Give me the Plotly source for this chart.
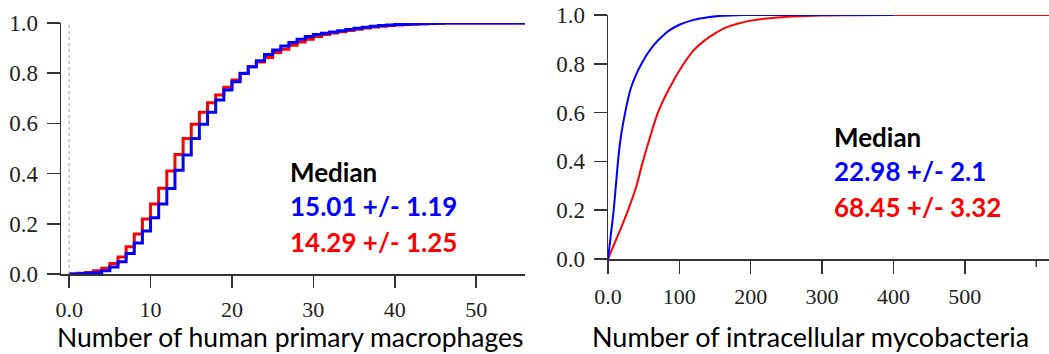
import plotly.graph_objects as go

# ---------------- data ----------------
# Left panel: cumulative fraction vs number of human primary macrophages (step CDF)
macro_x = list(range(0, 57))
macro_red = [0.000, 0.003, 0.006, 0.013, 0.023, 0.042, 0.068, 0.109, 0.159, 0.219,
             0.279, 0.342, 0.410, 0.476, 0.540, 0.597, 0.644, 0.682, 0.713, 0.744,
             0.773, 0.800, 0.826, 0.845, 0.863, 0.882, 0.895, 0.911, 0.924, 0.935,
             0.946, 0.954, 0.960, 0.965, 0.970, 0.975, 0.980, 0.984, 0.987, 0.990,
             0.992, 0.994, 0.996, 0.997, 0.998, 0.999, 1.0, 1.0, 1.0, 1.0,
             1.0, 1.0, 1.0, 1.0, 1.0, 1.0, 1.0]
macro_blue = [0.000, 0.001, 0.003, 0.006, 0.013, 0.028, 0.049, 0.082, 0.124, 0.171,
              0.224, 0.279, 0.341, 0.413, 0.474, 0.540, 0.597, 0.644, 0.693, 0.733,
              0.766, 0.799, 0.826, 0.850, 0.875, 0.892, 0.908, 0.922, 0.935, 0.946,
              0.954, 0.959, 0.964, 0.969, 0.974, 0.979, 0.983, 0.987, 0.990, 0.992,
              0.994, 0.995, 0.996, 0.997, 0.998, 0.999, 1.0, 1.0, 1.0, 1.0,
              1.0, 1.0, 1.0, 1.0, 1.0, 1.0, 1.0]

# Right panel: cumulative fraction vs number of intracellular mycobacteria
myco_blue_x = [0, 4, 8, 11, 14, 18, 24, 32, 40, 47, 55, 65, 75, 85, 100, 120, 140, 160, 180, 200, 400]
myco_blue_y = [0, 0.10, 0.20, 0.30, 0.40, 0.50, 0.60, 0.70, 0.76, 0.80, 0.84, 0.88, 0.91, 0.935,
               0.96, 0.98, 0.991, 0.997, 0.999, 1.0, 1.0]
myco_red_x = [0, 10, 20, 30, 40, 48, 59, 70, 86, 106, 120, 135, 150, 165, 180, 200, 230, 260,
              300, 350, 400, 630]
myco_red_y = [0, 0.07, 0.14, 0.215, 0.30, 0.39, 0.50, 0.60, 0.70, 0.80, 0.855, 0.895, 0.925, 0.948,
              0.963, 0.977, 0.988, 0.994, 0.998, 0.999, 1.0, 1.0]

y_ticks = [0.0, 0.2, 0.4, 0.6, 0.8, 1.0]
left_xticks = [0, 10, 20, 30, 40, 50]
left_xticktext = ["0.0", "10", "20", "30", "40", "50"]
right_xticks = [0, 100, 200, 300, 400, 500]
right_xticktext = ["0.0", "100", "200", "300", "400", "500"]

left_title = "Number of human primary macrophages"
right_title = "Number of intracellular mycobacteria"
left_median = ["Median", "15.01 +/- 1.19", "14.29 +/- 1.25"]
right_median = ["Median", "22.98 +/- 2.1", "68.45 +/- 3.32"]

BLUE = "#0000FF"
RED = "#FF0000"
W, H = 1049, 354


def px(x):
    return x / W


def py(y):
    return 1 - y / H


fig = go.Figure()
fig.add_trace(go.Scatter(x=macro_x, y=macro_red, mode="lines", line=dict(color=RED, width=3, shape="hv"),
                         xaxis="x", yaxis="y", showlegend=False, hoverinfo="skip"))
fig.add_trace(go.Scatter(x=macro_x, y=macro_blue, mode="lines", line=dict(color=BLUE, width=3, shape="hv"),
                         xaxis="x", yaxis="y", showlegend=False, hoverinfo="skip"))
fig.add_trace(go.Scatter(x=myco_red_x, y=myco_red_y, mode="lines", line=dict(color=RED, width=2, shape="spline", smoothing=0.8),
                         xaxis="x2", yaxis="y2", showlegend=False, hoverinfo="skip"))
fig.add_trace(go.Scatter(x=myco_blue_x, y=myco_blue_y, mode="lines", line=dict(color=BLUE, width=2, shape="spline", smoothing=0.6),
                         xaxis="x2", yaxis="y2", showlegend=False, hoverinfo="skip"))

ytickfont = dict(family="Liberation Serif", size=23, color="#222222")
xtickfont = dict(family="Liberation Serif", size=22, color="#222222")
axis_common = dict(showgrid=False, zeroline=False, showline=True, linecolor="#333333", linewidth=1.5,
                   ticks="outside", tickcolor="#333333", tickwidth=1.5, fixedrange=True,
                   automargin=False, ticklabeloverflow="allow")

fig.update_layout(
    width=W, height=H,
    margin=dict(l=0, r=0, t=0, b=0, autoexpand=False),
    paper_bgcolor="white", plot_bgcolor="white",
    xaxis=dict(domain=[px(61), px(525)], range=[-1, 56], tickvals=left_xticks, ticktext=left_xticktext,
               ticklen=12, anchor="y", ticklabelstandoff=3, tickfont=xtickfont, **axis_common),
    yaxis=dict(domain=[py(274), py(23)], range=[0, 1], tickvals=y_ticks, tickformat=".1f",
               ticklen=13, anchor="x", ticklabelstandoff=4, tickfont=ytickfont, **axis_common),
    xaxis2=dict(domain=[px(608), px(1049)], range=[0, 618], tickvals=right_xticks, ticktext=right_xticktext,
                ticklen=13, anchor="y2", ticklabelstandoff=4, tickfont=xtickfont, **axis_common),
    yaxis2=dict(domain=[py(259), py(15)], range=[0, 1], tickvals=y_ticks, tickformat=".1f",
                ticklen=13, anchor="x2", ticklabelstandoff=4, tickfont=ytickfont, **axis_common),
)

# dotted reference line at x = 0 in left panel
fig.add_shape(type="line", xref="x", yref="y", x0=0, x1=0, y0=0, y1=1,
              line=dict(color="#999999", width=1, dash="dot"))
# short end tick at 600 on the right x axis
fig.add_shape(type="line", xref="x2", yref="paper", x0=600, x1=600, y0=py(259), y1=py(267),
              line=dict(color="#333333", width=1.5))

fig.add_annotation(text=left_title, xref="paper", yref="paper", x=px(290), y=py(337),
                   xanchor="center", yanchor="middle", showarrow=False,
                   font=dict(family="Lato", size=26.5, color="#000000"))
fig.add_annotation(text=right_title, xref="paper", yref="paper", x=px(810), y=py(336),
                   xanchor="center", yanchor="middle", showarrow=False,
                   font=dict(family="Lato", size=27, color="#000000"))

med_colors = ["#000000", BLUE, RED]
left_y = [172, 206, 242]
right_y = [137, 171, 207]
for txt, c, yy in zip(left_median, med_colors, left_y):
    fig.add_annotation(text="<b>%s</b>" % txt, xref="paper", yref="paper", x=px(288), y=py(yy),
                       xanchor="left", yanchor="middle", showarrow=False,
                       font=dict(family="Lato", size=26, color=c))
for txt, c, yy in zip(right_median, med_colors, right_y):
    fig.add_annotation(text="<b>%s</b>" % txt, xref="paper", yref="paper", x=px(832), y=py(yy),
                       xanchor="left", yanchor="middle", showarrow=False,
                       font=dict(family="Lato", size=26, color=c))

fig.write_html("out.html", config={"displayModeBar": False, "staticPlot": True},
               post_script="document.body.style.margin='0';document.body.style.overflow='hidden';")
